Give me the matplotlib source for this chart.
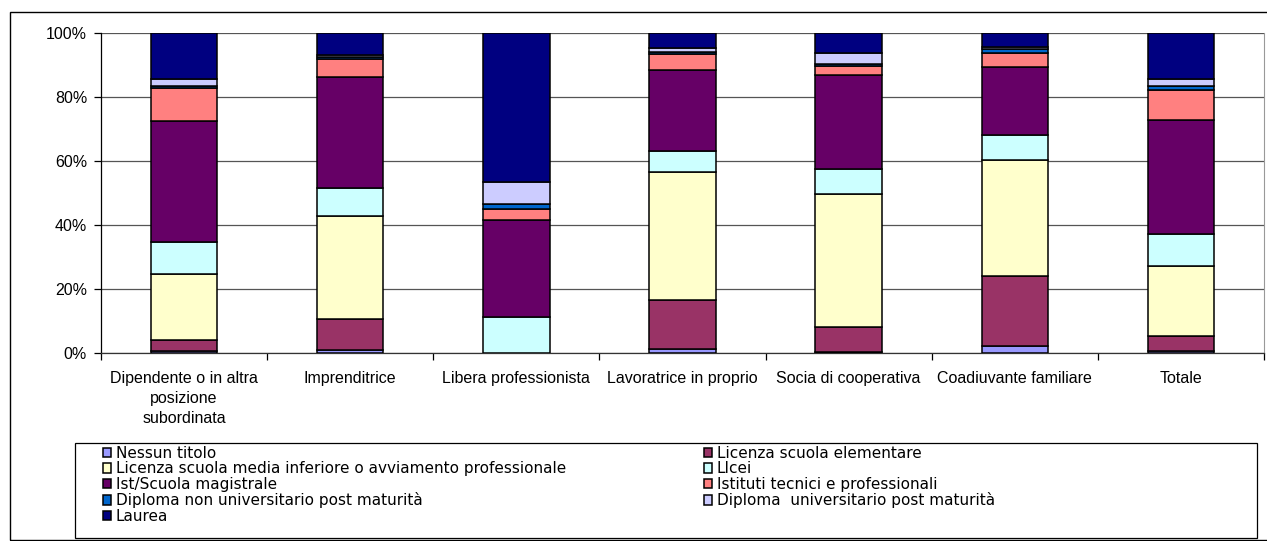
import matplotlib
matplotlib.use("Agg")
import matplotlib.pyplot as plt
from matplotlib.patches import Rectangle
import numpy as np

plt.rcParams['font.family'] = ['Liberation Sans', 'DejaVu Sans']

categories = ["Dipendente o in altra\nposizione\nsubordinata", "Imprenditrice",
              "Libera professionista", "Lavoratrice in proprio",
              "Socia di cooperativa", "Coadiuvante familiare", "Totale"]

series_names = ["Nessun titolo", "Licenza scuola elementare",
                "Licenza scuola media inferiore o avviamento professionale", "LIcei",
                "Ist/Scuola magistrale", "Istituti tecnici e professionali",
                "Diploma non universitario post maturità",
                "Diploma  universitario post maturità", "Laurea"]

nessun_titolo = [0.4, 0.8, 0.0, 1.2, 0.3, 2.2, 0.4]
licenza_elementare = [3.7, 9.7, 0.0, 15.4, 7.6, 21.9, 4.7]
licenza_media = [20.6, 32.3, 0.0, 40.1, 41.9, 36.2, 22.0]
licei = [10.1, 8.7, 11.3, 6.6, 7.8, 8.0, 10.0]
scuola_magistrale = [37.8, 34.8, 30.4, 25.2, 29.5, 21.2, 35.6]
istituti_tecnici = [10.3, 5.7, 3.3, 4.9, 2.7, 4.4, 9.4]
diploma_non_univ = [0.7, 0.5, 1.6, 0.6, 0.7, 1.1, 1.3]
diploma_univ = [2.2, 0.6, 7.0, 1.3, 3.2, 0.8, 2.2]
laurea = [14.2, 6.9, 46.4, 4.7, 6.3, 4.2, 14.4]

colors = ["#9999FF", "#993366", "#FFFFCC", "#CCFFFF", "#660066",
          "#FF8080", "#0066CC", "#CCCCFF", "#000080"]

series = [nessun_titolo, licenza_elementare, licenza_media, licei,
          scuola_magistrale, istituti_tecnici, diploma_non_univ, diploma_univ, laurea]

W, H = 1267, 541
fig = plt.figure(figsize=(W / 100, H / 100), dpi=100)

# chart area border
fig.add_artist(Rectangle((10 / W, 1 / H), 1.2, (541 - 12 - 1) / H, transform=fig.transFigure,
                         fill=False, edgecolor="black", linewidth=1.0))

ax = fig.add_axes([101 / W, (H - 352.7) / H, 1163 / W, 319.4 / H])

data = np.array(series, dtype=float)
totals = data.sum(axis=0)
pct = data / totals * 100
x = np.arange(len(categories))
bottom = np.zeros(len(categories))
handles = []
for i, name in enumerate(series_names):
    b = ax.bar(x, pct[i], bottom=bottom, width=0.4, color=colors[i],
               edgecolor="black", linewidth=1.1, label=name, zorder=3)
    handles.append(b)
    bottom += pct[i]

ax.set_xlim(-0.5, len(categories) - 0.5)
ax.set_ylim(0, 100)
ax.set_yticks([0, 20, 40, 60, 80, 100])
ax.set_yticklabels(["0%", "20%", "40%", "60%", "80%", "100%"])
ax.yaxis.grid(True, color="#555555", linewidth=0.9, zorder=0)
ax.set_axisbelow(True)

ax.set_xticks(x)
ax.set_xticklabels(categories, linespacing=1.4)
ax.set_xticks(np.arange(len(categories) + 1) - 0.5, minor=True)
ax.tick_params(axis="x", which="major", length=0, pad=13.5, labelsize=11.5)
ax.tick_params(axis="x", which="minor", length=5, direction="out", width=0.9)
ax.tick_params(axis="y", length=5, direction="out", width=0.9, labelsize=11.5, pad=5.0)

ax.spines["top"].set_visible(False)
ax.spines["right"].set_color("#999999")
ax.spines["left"].set_linewidth(0.9)
ax.spines["bottom"].set_linewidth(0.9)
ax.spines["bottom"].set_color("#333333")

# legend box
fig.add_artist(Rectangle((75 / W, (541 - 538) / H), (1257 - 75) / W, (538 - 443) / H,
                         transform=fig.transFigure, fill=False, edgecolor="black", linewidth=0.9))

order = [0, 2, 4, 6, 8, 1, 3, 5, 7]
leg = fig.legend([handles[i] for i in order], [series_names[i] for i in order],
                 ncol=2, loc="upper left", bbox_to_anchor=(103 / W, (H - 446) / H),
                 frameon=False, prop={"family": "DejaVu Sans", "size": 11},
                 handlelength=0.55, handleheight=0.55,
                 handletextpad=0.3, labelspacing=0.03, columnspacing=9.0,
                 borderpad=0.0, borderaxespad=0.0)

fig.savefig("out.png", dpi=100)
